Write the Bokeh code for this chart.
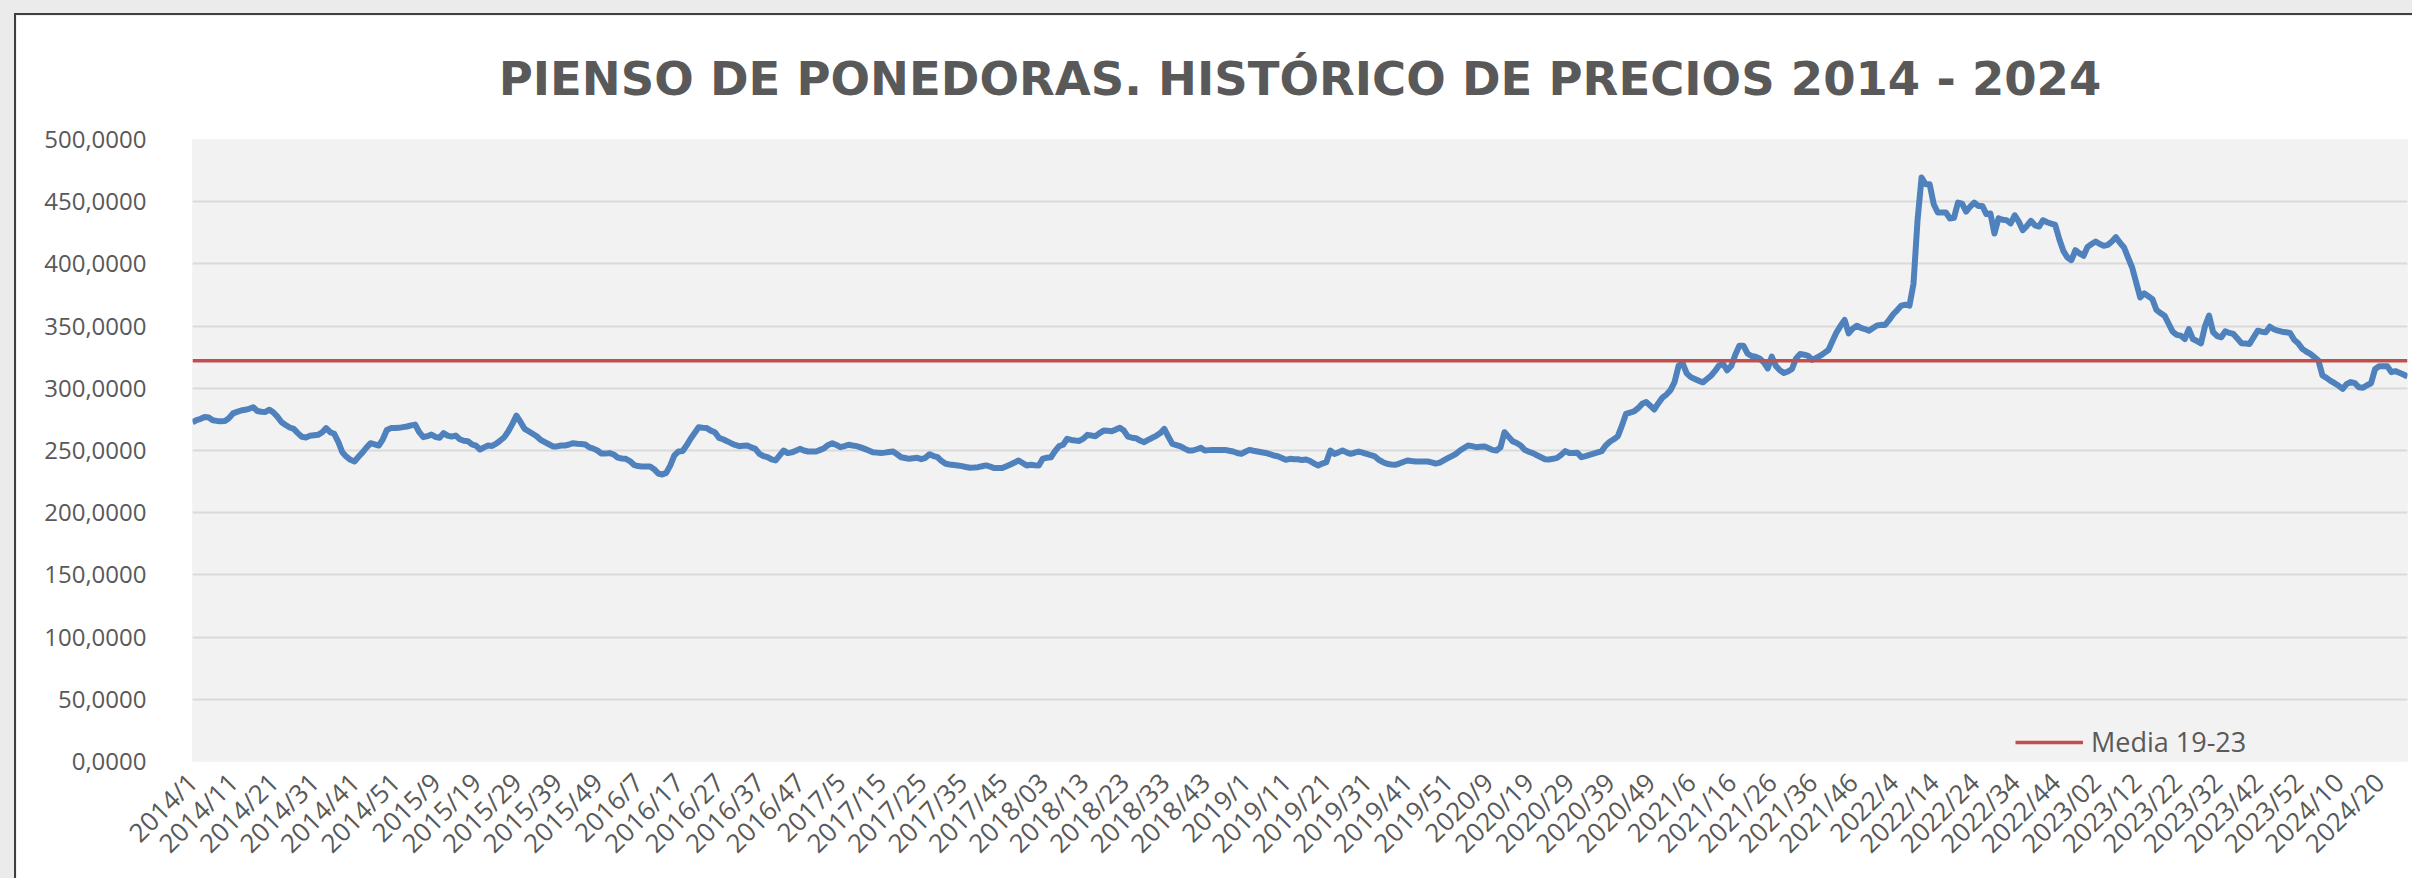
from bokeh.plotting import figure
from bokeh.models import Range1d, FixedTicker, Title, Legend, LegendItem
from bokeh.layouts import column
from bokeh.embed import file_html
from bokeh.resources import INLINE
import math

title_text = "PIENSO DE PONEDORAS. HISTÓRICO DE PRECIOS 2014 - 2024"
series_name = "Media 19-23"
media_19_23 = 322.2

years = [2014, 2015, 2016, 2017, 2018, 2019, 2020, 2021, 2022, 2023, 2024]
weeks_per_year = [52, 52, 52, 52, 52, 52, 53, 52, 52, 52, 27]
padded_years = [2018, 2023]

p2014 = [272.7, 274.5, 275.5, 277.0, 276.5, 274.3, 273.8, 273.5, 273.8, 276.0,
         279.8, 281.0, 282.2, 282.8, 283.5, 284.8, 281.8, 281.2, 281.0, 282.8,
         280.5, 277.0, 272.7, 270.5, 268.5, 267.4, 264.0, 261.0, 260.5, 261.8,
         262.2, 262.6, 264.5, 268.0, 264.7, 263.4, 257.0, 248.6, 245.0, 242.5,
         241.2, 245.0, 248.5, 252.5, 255.9, 255.0, 254.0, 259.0, 266.5, 268.0,
         268.0, 268.2]
p2015 = [268.8, 269.3, 270.2, 270.8, 264.7, 260.7, 261.5, 262.8, 261.0, 260.2,
         264.0, 262.0, 261.2, 262.0, 259.0, 257.8, 257.5, 255.0, 254.0, 250.8,
         252.5, 254.0, 253.7, 255.5, 258.0, 260.7, 265.5, 271.4, 278.0, 273.0,
         267.4, 265.5, 263.5, 261.5, 258.5, 256.7, 255.0, 253.3, 253.3, 254.0,
         254.0, 254.8, 255.9, 255.5, 255.2, 254.8, 252.5, 251.5, 250.0, 247.5,
         247.5, 247.9]
p2016 = [246.8, 244.3, 243.6, 243.3, 241.5, 238.5, 237.5, 237.2, 237.2, 237.2,
         235.0, 231.5, 230.7, 232.0, 238.0, 246.0, 249.2, 249.5, 254.0, 259.5,
         264.0, 268.7, 268.3, 268.0, 266.0, 264.7, 260.2, 259.0, 257.5, 255.9,
         254.5, 253.5, 253.8, 254.0, 252.5, 251.3, 247.3, 245.5, 244.6, 242.8,
         242.0, 246.0, 250.0, 247.9, 248.5, 249.8, 251.3, 250.0, 249.2, 249.2,
         249.2, 250.5]
p2017 = [251.9, 254.5, 255.9, 254.5, 252.7, 253.5, 254.6, 254.0, 253.5, 252.5,
         251.3, 250.0, 248.6, 248.3, 248.0, 248.3, 248.8, 249.2, 247.0, 244.6,
         244.0, 243.3, 243.8, 244.1, 243.0, 244.1, 247.0, 245.5, 244.6, 241.5,
         239.3, 238.8, 238.4, 238.0, 237.4, 236.7, 236.1, 236.3, 236.6, 237.3,
         238.0, 237.0, 235.9, 235.9, 235.9, 237.3, 238.8, 240.3, 242.0, 240.0,
         238.0, 238.5]
p2018 = [238.2, 238.0, 243.5, 244.2, 244.6, 249.5, 253.5, 254.6, 259.4, 258.5,
         258.0, 257.7, 259.5, 262.6, 262.0, 261.5, 264.0, 266.0, 265.8, 265.5,
         266.8, 268.2, 266.0, 261.2, 260.3, 259.9, 258.0, 256.7, 258.5, 260.2,
         261.8, 264.0, 267.4, 261.0, 255.3, 254.3, 253.3, 251.5, 250.0, 250.0,
         251.0, 252.1, 250.0, 250.3, 250.5, 250.5, 250.5, 250.5, 249.8, 249.2,
         248.0, 247.3]
p2019 = [249.0, 250.5, 249.8, 249.2, 248.6, 248.0, 247.0, 246.0, 245.4, 244.0,
         242.5, 243.3, 243.0, 243.0, 242.3, 242.8, 241.5, 239.5, 238.0, 239.5,
         240.6, 250.0, 247.3, 248.5, 250.0, 248.5, 247.3, 248.2, 249.2, 248.2,
         247.3, 246.2, 245.2, 242.5, 240.6, 239.3, 238.8, 238.5, 239.5, 240.8,
         242.0, 241.5, 241.2, 241.2, 241.2, 241.2, 240.5, 239.5, 240.2, 242.0,
         243.8, 245.5]
p2020 = [247.3, 250.0, 252.0, 254.0, 253.5, 252.7, 253.0, 253.3, 252.0, 250.5,
         250.0, 252.5, 264.7, 261.0, 257.5, 256.0, 254.0, 250.5, 249.0, 247.9,
         246.2, 244.6, 243.0, 242.8, 243.3, 244.1, 246.5, 249.5, 248.0, 248.0,
         248.1, 244.6, 245.5, 246.5, 247.5, 248.5, 249.5, 254.0, 257.0, 259.0,
         261.5, 270.0, 279.4, 280.5, 281.4, 284.0, 287.5, 288.9, 286.0, 283.0,
         288.0, 292.5, 295.0]
p2021 = [298.5, 305.0, 318.2, 320.1, 312.0, 309.0, 307.5, 306.0, 304.8, 307.5,
         310.1, 314.0, 318.5, 319.5, 314.5, 318.0, 327.0, 334.3, 334.3, 328.0,
         326.0, 325.4, 324.0, 321.0, 316.0, 325.4, 318.0, 314.5, 312.3, 313.5,
         315.5, 324.0, 327.6, 327.0, 326.0, 322.8, 324.5, 326.2, 328.5, 330.8,
         338.0, 345.0, 350.3, 354.9, 344.2, 348.0, 350.3, 348.5, 347.6, 346.3,
         348.5, 350.5]
p2022 = [351.0, 350.9, 355.0, 359.5, 362.9, 366.5, 367.2, 366.4, 383.8, 435.0,
         469.4, 464.0, 464.0, 448.0, 441.3, 441.3, 441.3, 436.5, 437.0, 449.3,
         448.5, 442.1, 446.0, 449.3, 446.6, 446.6, 440.0, 440.5, 424.4, 436.7,
         435.5, 435.1, 432.5, 439.1, 434.0, 427.1, 430.5, 434.6, 431.0, 430.0,
         435.1, 433.5, 432.4, 431.3, 420.0, 410.5, 405.2, 403.0, 411.0, 408.5,
         406.5, 413.7]
p2023 = [416.0, 418.0, 416.0, 414.5, 415.3, 418.0, 421.5, 417.0, 413.2, 405.0,
         397.1, 385.0, 373.0, 376.3, 374.0, 371.7, 363.0, 360.5, 358.4, 352.0,
         345.5, 343.0, 342.3, 339.6, 347.6, 339.6, 338.0, 336.2, 350.0, 358.4,
         345.0, 342.0, 341.0, 345.8, 344.5, 343.7, 340.0, 336.2, 336.0, 335.7,
         341.0, 346.3, 345.5, 345.0, 349.5, 347.5, 346.3, 345.5, 345.0, 344.5,
         339.0, 336.2]
p2024 = [331.7, 329.5, 327.6, 325.0, 322.3, 310.3, 308.4, 306.0, 304.1, 302.0,
         299.6, 303.5, 305.0, 304.1, 300.8, 300.4, 302.5, 304.1, 315.6, 317.8,
         317.8, 317.8, 313.0, 313.8, 312.5, 311.1, 309.5]

y_ticks = [0, 50, 100, 150, 200, 250, 300, 350, 400, 450, 500]
y_tick_labels = ["0,0000", "50,0000", "100,0000", "150,0000", "200,0000",
                 "250,0000", "300,0000", "350,0000", "400,0000", "450,0000",
                 "500,0000"]

# categories (week labels)
categories = []
for yr, nw in zip(years, weeks_per_year):
    for wk in range(1, nw + 1):
        categories.append(f"{yr}/{wk:02d}" if yr in padded_years else f"{yr}/{wk}")

prices = p2014 + p2015 + p2016 + p2017 + p2018 + p2019 + p2020 + p2021 + p2022 + p2023 + p2024
idx = list(range(len(categories)))
media_values = [media_19_23] * len(categories)

TXT = "#595959"
FONT = "Open Sans"

p = figure(width=2398, height=865, output_backend="svg", toolbar_location=None,
           x_range=Range1d(0, len(categories) - 1), y_range=Range1d(0, 500),
           min_border_left=176, min_border_right=7, min_border_top=124,
           min_border_bottom=119,
           styles={"border-left": "2px solid #3f3f3f", "border-top": "2px solid #3f3f3f"})
p.background_fill_color = "#f2f2f2"
p.border_fill_color = "white"
p.outline_line_color = None

t = Title(text=title_text, align="center", text_font="DejaVu Sans", text_font_style="bold",
          text_font_size="46.5px", text_color=TXT, standoff=67)
p.add_layout(t, "above")

p.line(idx, prices, line_color="#4f81bd", line_width=6, line_join="round")
r_media = p.line(idx, media_values, line_color="#c0504d", line_width=3.5)

p.xaxis.ticker = FixedTicker(ticks=list(range(0, len(categories), 10)))
p.xaxis.major_label_overrides = {i: categories[i] for i in range(0, len(categories), 10)}
p.xaxis.major_label_orientation = math.pi / 4
p.xaxis.major_label_text_font = FONT
p.xaxis.major_label_text_font_size = "26px"
p.xaxis.major_label_text_color = TXT
p.xaxis.major_label_standoff = 10
p.xaxis.axis_line_color = None
p.xaxis.major_tick_line_color = None
p.xaxis.minor_tick_line_color = None

p.yaxis.ticker = FixedTicker(ticks=y_ticks)
p.yaxis.major_label_overrides = {v: s for v, s in zip(y_ticks, y_tick_labels)}
p.yaxis.major_label_text_font = FONT
p.yaxis.major_label_text_font_size = "24px"
p.yaxis.major_label_text_color = TXT
p.yaxis.major_label_standoff = 40
p.yaxis.axis_line_color = None
p.yaxis.major_tick_line_color = None
p.yaxis.minor_tick_line_color = None

p.xgrid.grid_line_color = None
p.ygrid.ticker = FixedTicker(ticks=y_ticks)
p.ygrid.grid_line_color = "#d9d9d9"
p.ygrid.grid_line_width = 2

legend = Legend(items=[LegendItem(label=series_name, renderers=[r_media])],
                location=(1823, 1), orientation="horizontal",
                glyph_width=68, glyph_height=24, label_standoff=8,
                padding=0, margin=0, border_line_color=None,
                background_fill_alpha=0,
                label_text_font=FONT, label_text_font_size="27px",
                label_text_color=TXT)
p.add_layout(legend, "center")

root = column(p, styles={"background-color": "#ebebeb", "padding-left": "14px",
                         "padding-top": "13px"})

open("out.html", "w").write(file_html(root, INLINE))
